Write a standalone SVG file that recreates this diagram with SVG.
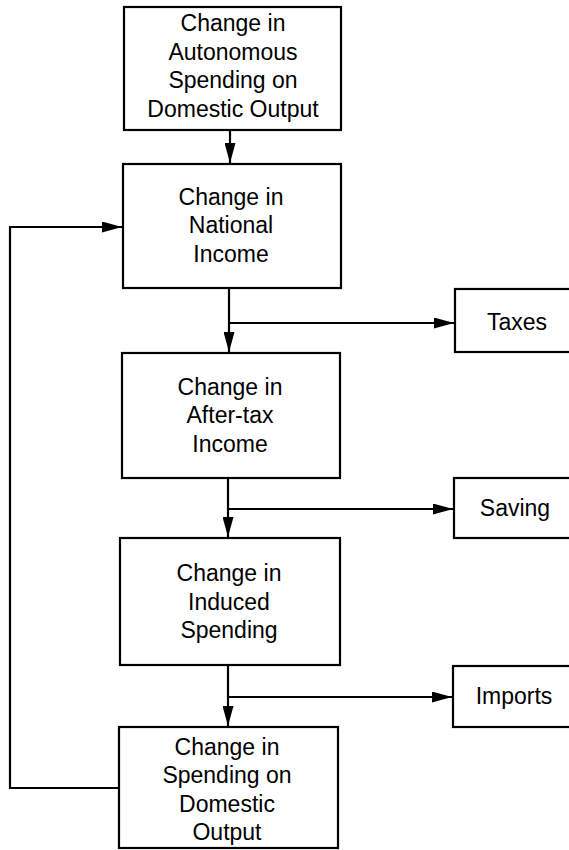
<svg xmlns="http://www.w3.org/2000/svg" width="569" height="850" viewBox="0 0 569 850">
<style>
.box{fill:#fff;stroke:#000;stroke-width:2.2}
.t{font-family:"Liberation Sans",Arial,sans-serif;font-size:23px;fill:#000;text-anchor:middle}
.c{fill:none;stroke:#000;stroke-width:2.2}
</style>
<defs>
<marker id="ah" markerUnits="userSpaceOnUse" markerWidth="21" markerHeight="11" refX="20" refY="5.5" orient="auto">
<path d="M0,0 L20,5.5 L0,11 Z" fill="#000"/>
</marker>
</defs>
<rect width="569" height="850" fill="#fff"/>
<g id="connectors">
<path class="c" d="M230,130 V163" marker-end="url(#ah)"/>
<path class="c" d="M229,288 V352" marker-end="url(#ah)"/>
<path class="c" d="M229,323 H454" marker-end="url(#ah)"/>
<path class="c" d="M228,478 V537" marker-end="url(#ah)"/>
<path class="c" d="M228,509 H453" marker-end="url(#ah)"/>
<path class="c" d="M228,665 V726" marker-end="url(#ah)"/>
<path class="c" d="M228,697 H452" marker-end="url(#ah)"/>
<path class="c" d="M119,788 H10 V227 H122" marker-end="url(#ah)"/>
</g>
<g id="n1">
<rect class="box" x="124" y="7" width="217" height="123"/>
<text class="t" x="233" y="31">Change in</text>
<text class="t" x="233" y="60">Autonomous</text>
<text class="t" x="233" y="88">Spending on</text>
<text class="t" x="233" y="117">Domestic Output</text>
</g>
<g id="n2">
<rect class="box" x="123" y="164" width="218" height="124"/>
<text class="t" x="231" y="205">Change in</text>
<text class="t" x="231" y="233">National</text>
<text class="t" x="231" y="262">Income</text>
</g>
<g id="n3">
<rect class="box" x="122" y="353" width="218" height="125"/>
<text class="t" x="230" y="395">Change in</text>
<text class="t" x="230" y="423">After-tax</text>
<text class="t" x="230" y="452">Income</text>
</g>
<g id="n4">
<rect class="box" x="120" y="538" width="220" height="127"/>
<text class="t" x="229" y="581">Change in</text>
<text class="t" x="229" y="610">Induced</text>
<text class="t" x="229" y="638">Spending</text>
</g>
<g id="n5">
<rect class="box" x="119" y="727" width="219" height="121"/>
<text class="t" x="227" y="755">Change in</text>
<text class="t" x="227" y="783">Spending on</text>
<text class="t" x="227" y="812">Domestic</text>
<text class="t" x="227" y="840">Output</text>
</g>
<g id="taxes">
<rect class="box" x="455" y="289" width="130" height="63"/>
<text class="t" x="517" y="330">Taxes</text>
</g>
<g id="saving">
<rect class="box" x="454" y="478" width="130" height="60"/>
<text class="t" x="515" y="516">Saving</text>
</g>
<g id="imports">
<rect class="box" x="453" y="666" width="130" height="61"/>
<text class="t" x="514" y="704">Imports</text>
</g>
</svg>
